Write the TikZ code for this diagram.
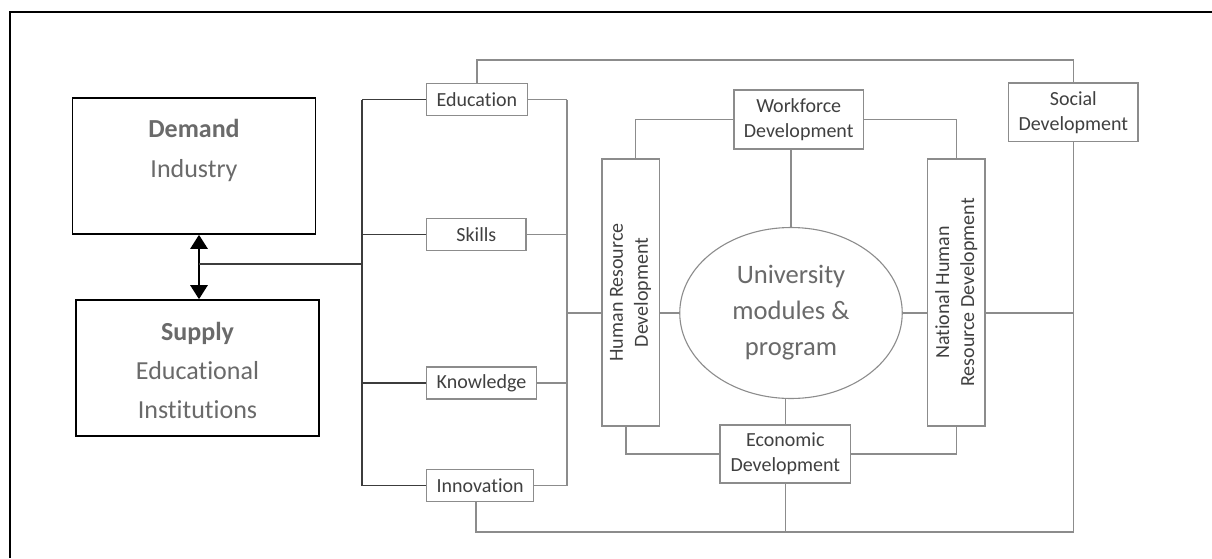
\documentclass[tikz,border=0pt]{standalone}
\usepackage{fontspec}
\setmainfont{Carlito}[Ligatures=NoCommon]
\usetikzlibrary{arrows.meta,shapes.geometric}
\definecolor{linea}{HTML}{8C8C8C}
\definecolor{bus}{HTML}{3C3C3C}
\definecolor{textogris}{HTML}{6A6A6A}
\definecolor{textoosc}{HTML}{404040}

\begin{document}
\begin{tikzpicture}[x=0.5pt, y=-0.5pt, >={Triangle[length=7pt,width=8.5pt]},
  bigbox/.style={draw=black, line width=0.8pt, minimum width=121.5pt, minimum height=68pt},
  bigtxt/.style={text=textogris, font=\fontsize{13}{20}\selectfont, anchor=base, inner sep=0pt},
  smallbox/.style={draw=linea, line width=0.7pt, text=textoosc, font=\fontsize{10}{12.5}\selectfont,
    align=center, inner xsep=5pt, inner ysep=0pt, minimum width=49.7pt, minimum height=16pt},
  tallbox/.style={smallbox, rotate=90, minimum width=133.5pt, minimum height=28.7pt},
  link/.style={draw=linea, line width=0.75pt},
  buslink/.style={draw=bus, line width=0.85pt}]
  \useasboundingbox (0,0) rectangle (1212,558);
  \fill[white] (0,0) rectangle (1212,558);
  \draw[line width=1.25pt] (10,558) -- (10,12) -- (1212,12);

  % Demand / Supply
  \node[bigbox] (demand) at (194,166) {};
  \node[bigtxt] (demandhead) at (194,137) {\textbf{Demand}};
  \node[bigtxt] (demandsub) at (194,177) {Industry};
  \node[bigbox] (supply) at (197.5,368) {};
  \node[bigtxt] (supplyhead) at (197.5,340) {\textbf{Supply}};
  \node[bigtxt] (supplysub) at (197.5,379) {Educational};
  \node[bigtxt] (supplyinst) at (197.5,418) {Institutions};

  \coordinate (cruce) at (199,264);
  \coordinate (busL) at (362,0);
  \coordinate (busR) at (567,0);
  \coordinate (topy) at (0,60);
  \coordinate (boty) at (0,532);
  \draw[<->, line width=1.3pt] (cruce |- demand.south) -- (cruce |- supply.north);

  % Education, skills, knowledge, innovation
  \node[smallbox, anchor=west] (educ) at (426,99.5) {Education};
  \node[smallbox, anchor=west] (skills) at (426,234.5) {Skills};
  \node[smallbox, anchor=west] (know) at (426,383) {Knowledge};
  \node[smallbox, anchor=west] (innov) at (426,485.5) {Innovation};

  \draw[buslink] (cruce) -- (busL |- cruce);
  \draw[buslink] (busL |- educ.west) -- (busL |- innov.west);
  \foreach \b in {educ,skills,know,innov}
    \draw[buslink] (busL |- \b.west) -- (\b.west);
  \draw[link] (busR |- educ.east) -- (busR |- innov.east);
  \foreach \b in {educ,skills,know,innov}
    \draw[link] (\b.east) -- (busR |- \b.east);

  % Development boxes round the university
  \node[ellipse, draw=linea, line width=0.55pt, minimum width=111.25pt, minimum height=85.5pt,
    text=textogris, font=\fontsize{13.3}{18}\selectfont, align=center, inner sep=0pt]
    (univ) at (791,313) {University\\modules \&\\program};
  \node[tallbox] (hrd) at (630.5,292.5) {Human Resource\\Development};
  \node[tallbox] (nhrd) at (956.3,292.5) {National Human\\Resource Development};
  \node[smallbox, minimum width=64.8pt, minimum height=29.5pt] (wf) at (798.7,119.5) {Workforce\\Development};
  \node[smallbox, minimum width=65.3pt, minimum height=29pt] (eco) at (785.3,454) {Economic\\Development};
  \node[smallbox, minimum width=64.6pt, minimum height=29.3pt] (social) at (1073.3,112.3) {Social\\Development};

  % rotated boxes: east = top, west = bottom, north = left, south = right
  \draw[link] (wf.west) -| ([xshift=2.5pt]hrd.east);
  \draw[link] (wf.east) -| (nhrd.east);
  \draw[link] (univ.north) -- (univ.north |- wf.south);
  \draw[link] (eco.north) -- (eco.north |- univ.south);
  \draw[link] (eco.west) -| ([xshift=-2.2pt]hrd.west);
  \draw[link] (eco.east) -| (nhrd.west);
  \draw[link] (busR |- univ.west) -- (univ.west -| hrd.north);
  \draw[link] (univ.west -| hrd.south) -- (univ.west);
  \draw[link] (univ.east) -- (univ.east -| nhrd.north);
  \draw[link] (univ.east -| nhrd.south) -- (univ.east -| social.south);

  % outer loop
  \draw[link] (educ.north) -- (educ.north |- topy) -| (social.north);
  \draw[link] ([xshift=-2pt]innov.south) -- ([xshift=-2pt]innov.south |- boty) -| (social.south);
  \draw[link] (eco.south) -- (eco.south |- boty);
\end{tikzpicture}
\end{document}
